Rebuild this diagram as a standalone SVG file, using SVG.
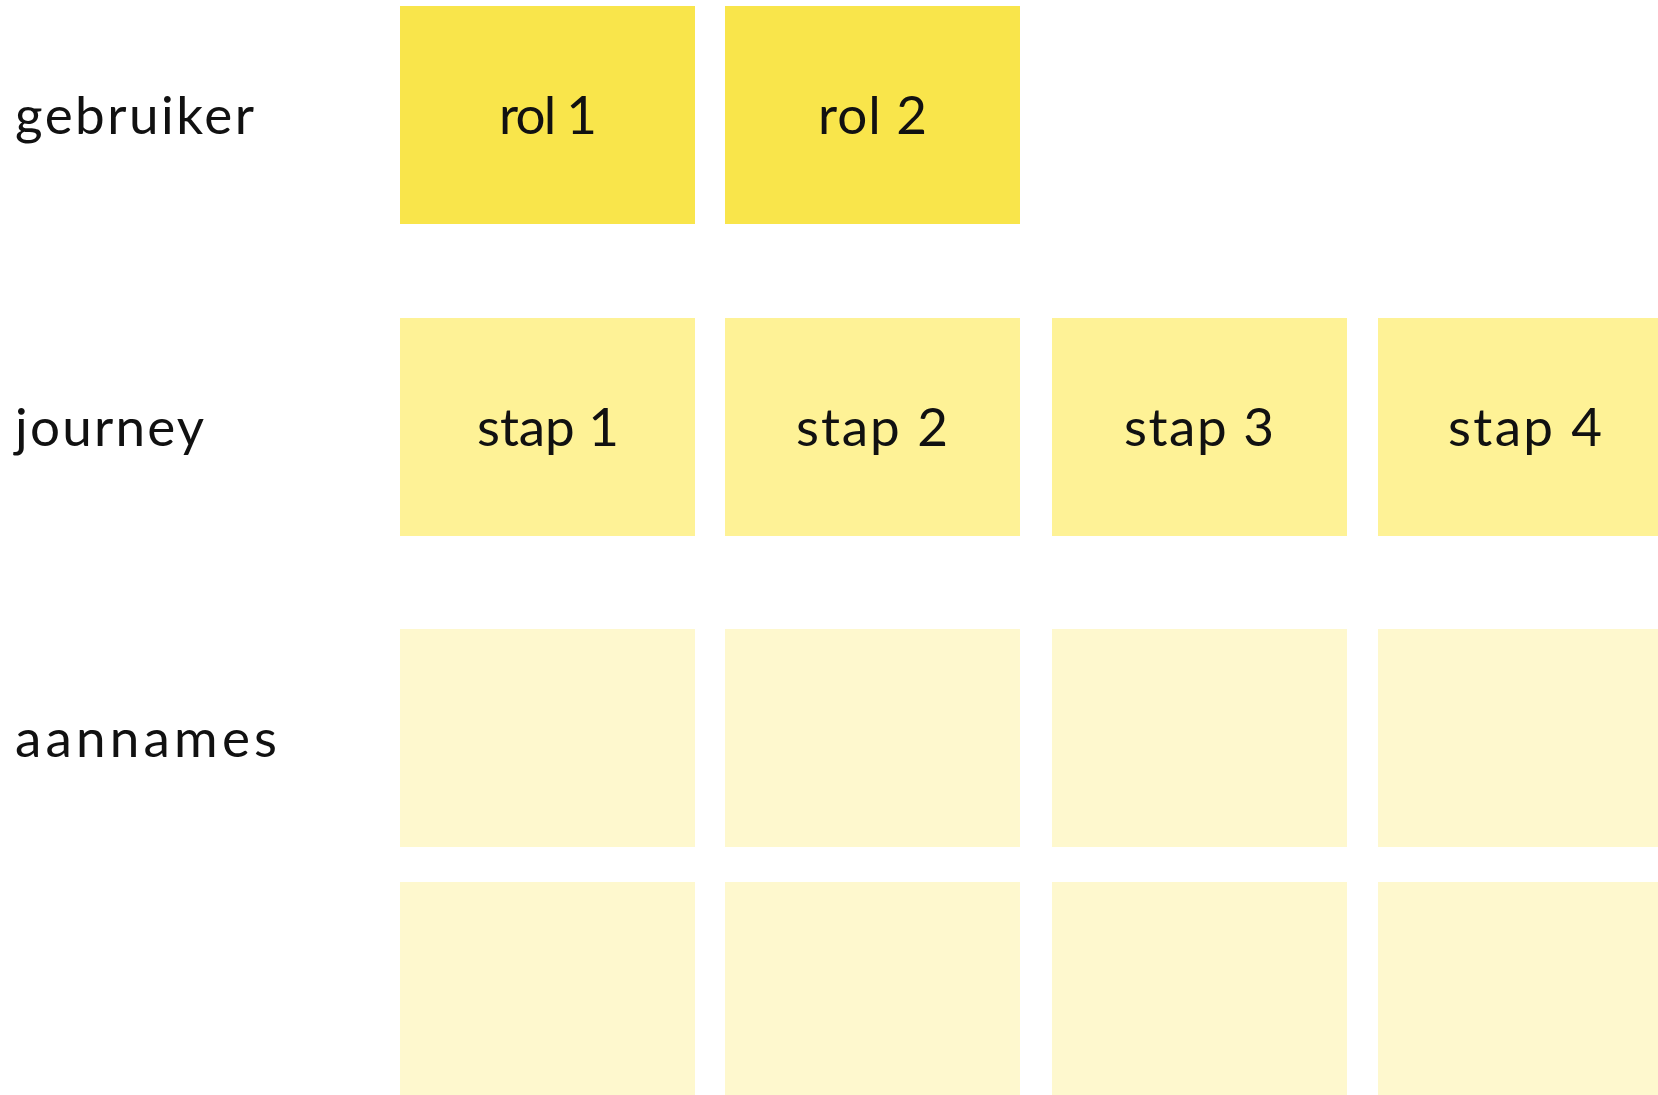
<svg xmlns="http://www.w3.org/2000/svg" width="1658" height="1095" viewBox="0 0 1658 1095">
<style>
  text { font-family: "Lato", "Open Sans", "Liberation Sans", sans-serif; font-size: 53px; fill: #111111; }
  .r1 { fill: #F9E54B; }
  .r2 { fill: #FEF296; }
  .r3 { fill: #FEF8CE; }
</style>
<rect x="0" y="0" width="1658" height="1095" fill="#FFFFFF"/>
<g id="labels">
  <text x="15" y="134" textLength="239" lengthAdjust="spacing">gebruiker</text>
  <text x="15" y="446" textLength="189" lengthAdjust="spacing">journey</text>
  <text x="15" y="757" textLength="262" lengthAdjust="spacing">aannames</text>
</g>
<g id="rol1"><rect class="r1" x="400" y="6" width="295" height="218"/><text x="499" y="134" textLength="98" lengthAdjust="spacing">rol 1</text></g>
<g id="rol2"><rect class="r1" x="725" y="6" width="295" height="218"/><text x="818" y="134" textLength="109" lengthAdjust="spacing">rol 2</text></g>
<g id="stap1"><rect class="r2" x="400" y="318" width="295" height="218"/><text x="477" y="446" textLength="142" lengthAdjust="spacing">stap 1</text></g>
<g id="stap2"><rect class="r2" x="725" y="318" width="295" height="218"/><text x="796" y="446" textLength="152" lengthAdjust="spacing">stap 2</text></g>
<g id="stap3"><rect class="r2" x="1052" y="318" width="295" height="218"/><text x="1124" y="446" textLength="150" lengthAdjust="spacing">stap 3</text></g>
<g id="stap4"><rect class="r2" x="1378" y="318" width="295" height="218"/><text x="1448" y="446" textLength="154" lengthAdjust="spacing">stap 4</text></g>
<g id="aanname1a"><rect class="r3" x="400" y="629" width="295" height="218"/></g>
<g id="aanname2a"><rect class="r3" x="725" y="629" width="295" height="218"/></g>
<g id="aanname3a"><rect class="r3" x="1052" y="629" width="295" height="218"/></g>
<g id="aanname4a"><rect class="r3" x="1378" y="629" width="295" height="218"/></g>
<g id="aanname1b"><rect class="r3" x="400" y="882" width="295" height="218"/></g>
<g id="aanname2b"><rect class="r3" x="725" y="882" width="295" height="218"/></g>
<g id="aanname3b"><rect class="r3" x="1052" y="882" width="295" height="218"/></g>
<g id="aanname4b"><rect class="r3" x="1378" y="882" width="295" height="218"/></g>
</svg>
